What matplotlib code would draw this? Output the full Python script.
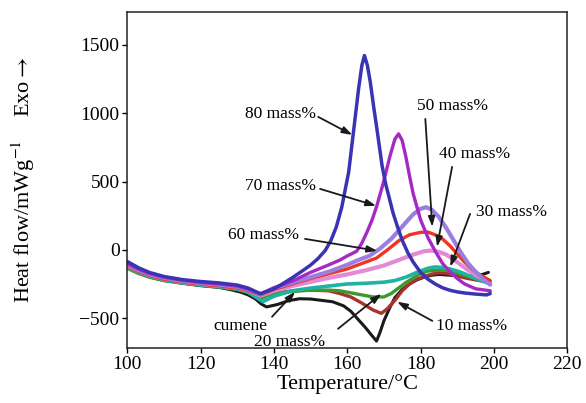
import matplotlib.pyplot as plt

plt.rcParams['font.family'] = ['Liberation Serif', 'DejaVu Serif']
plt.rcParams['mathtext.fontset'] = 'stix'

# DSC curves: temperature (°C) / heat flow (mW/g)
t_cumene = [100, 103, 106, 110, 115, 120, 125, 128, 131, 133, 135, 136.5, 138, 141, 144, 147, 150, 153, 156, 159, 161,
            163, 165, 166.5, 168, 169, 170, 171.5, 173, 175, 177, 179, 181, 183, 185, 187, 190, 193, 196, 197.5, 198.5]
hf_cumene = [-130, -168, -198, -224, -244, -262, -275, -290, -310, -330, -360, -395, -418, -400, -372, -358, -360, -370,
             -380, -410, -450, -510, -570, -620, -668, -600, -520, -430, -350, -290, -250, -220, -200, -186, -180, -184,
             -190, -193, -186, -175, -165]

t_10 = [100, 103, 106, 110, 115, 120, 125, 130, 133, 135, 136.5, 138, 140, 145, 150, 155, 158, 161, 164, 167, 169.3,
        171, 173, 175, 177, 179, 181, 183, 185, 187, 189, 192, 195, 199]
hf_10 = [-128, -165, -195, -222, -242, -258, -270, -287, -308, -330, -350, -335, -320, -300, -295, -300, -320, -345,
         -390, -440, -465, -430, -370, -300, -250, -215, -195, -178, -168, -172, -185, -205, -220, -240]

t_20 = [100, 103, 106, 110, 115, 120, 125, 130, 133, 135, 136.5, 138, 140, 145, 150, 155, 158, 161, 164, 167, 170,
        172, 174, 176, 178, 180, 182, 185, 187, 190, 193, 196, 199]
hf_20 = [-135, -172, -200, -225, -244, -260, -272, -290, -312, -335, -360, -338, -320, -305, -295, -295, -300, -315,
         -330, -345, -345, -320, -280, -240, -205, -175, -155, -148, -150, -170, -195, -215, -235]

t_30 = [100, 103, 106, 110, 115, 120, 125, 130, 133, 135, 137, 140, 145, 150, 155, 160, 165, 170, 173, 176, 179, 182,
        184, 186, 188, 190, 192, 194, 196, 199]
hf_30 = [-125, -163, -193, -220, -240, -257, -268, -285, -310, -345, -380, -340, -300, -280, -265, -250, -245, -237,
         -225, -200, -165, -135, -125, -130, -140, -155, -175, -200, -220, -250]

t_40 = [100, 103, 106, 110, 115, 120, 125, 130, 133, 135, 136.5, 140, 145, 150, 155, 160, 165, 170, 174, 178, 181,
        183, 185, 187, 189, 191, 193, 195, 197, 199]
hf_40 = [-118, -155, -186, -212, -234, -250, -262, -278, -298, -320, -335, -300, -265, -235, -205, -180, -150, -115,
         -75, -35, -10, -5, -15, -35, -70, -110, -150, -185, -215, -240]

t_50 = [100, 103, 106, 110, 115, 120, 125, 130, 133, 135, 136.5, 140, 145, 150, 155, 160, 164, 168, 171, 174, 177,
        180, 182, 184, 186, 188, 190, 192, 194, 196, 199]
hf_50 = [-120, -158, -188, -215, -236, -252, -264, -280, -300, -318, -330, -290, -250, -210, -175, -140, -100, -60, 0,
         65, 110, 128, 130, 110, 80, 30, -30, -90, -140, -180, -225]

t_60 = [100, 103, 106, 110, 115, 120, 125, 130, 133, 135, 136.5, 140, 145, 150, 155, 160, 163, 166, 169, 172, 175,
        178, 180, 181.5, 183, 185, 187, 189, 191, 193, 195, 197, 199]
hf_60 = [-110, -148, -178, -205, -228, -243, -255, -270, -292, -312, -325, -280, -240, -200, -160, -110, -75, -45, 10,
         80, 170, 260, 300, 312, 295, 240, 160, 70, -20, -100, -160, -215, -255]

t_70 = [100, 103, 106, 110, 115, 120, 125, 130, 133, 135, 136.5, 140, 145, 150, 155, 158, 160, 162.6, 164, 165.4,
        166.8, 168.1, 169.9, 171.7, 173, 174, 175, 176, 177, 178, 180, 182, 184, 186, 188, 190, 192, 195, 199]
hf_70 = [-100, -140, -172, -200, -222, -238, -250, -265, -288, -310, -322, -280, -230, -165, -110, -75, -45, -10, 50,
         130, 220, 324, 495, 690, 810, 849, 800, 680, 540, 410, 220, 90, -10, -100, -160, -210, -250, -285, -300]

t_80 = [100, 103, 106, 110, 115, 120, 125, 130, 133, 135, 136.3, 138, 140, 142, 145, 148, 150, 152, 154, 155.5, 157,
        158.5, 160.4, 161.7, 163.1, 164, 164.7, 165.5, 166.3, 167.2, 168.1, 169.5, 170.5, 171.3, 172.5, 173.6, 175,
        176.5, 178, 180, 182, 184, 186, 188, 190, 192, 195, 198, 199]
hf_80 = [-85, -130, -165, -195, -218, -232, -242, -258, -280, -305, -322, -305, -285, -255, -205, -150, -112, -65, -5,
         65, 165, 310, 569, 861, 1178, 1350, 1422, 1350, 1227, 1050, 885, 617, 480, 397, 270, 178, 70, -20, -90, -165,
         -215, -250, -278, -296, -308, -316, -324, -330, -320]

series = [
    (t_cumene, hf_cumene, '#1a1a1a', 2.2),
    (t_10, hf_10, '#a8322e', 2.4),
    (t_20, hf_20, '#3a9a2e', 2.4),
    (t_30, hf_30, '#1fb3a3', 2.6),
    (t_40, hf_40, '#e38ad6', 3.0),
    (t_50, hf_50, '#ee3423', 2.4),
    (t_60, hf_60, '#9a7fe0', 3.0),
    (t_70, hf_70, '#a52ac3', 2.4),
    (t_80, hf_80, '#3b33b5', 2.5),
]

# label text, text position, arrow tail, arrow tip
labels = [
    ('80 mass%', (141.7, 995), (152.1, 973), (161.4, 841)),
    ('70 mass%', (141.7, 468), (152.6, 446), (167.9, 322)),
    ('60 mass%', (137.1, 110), (148.5, 80), (168.2, -7)),
    ('50 mass%', (188.6, 1054), (181.3, 958), (183.2, 168)),
    ('40 mass%', (194.6, 702), (188.6, 607), (184.5, 22)),
    ('30 mass%', (204.7, 278), (193.5, 263), (188.1, -124)),
    ('10 mass%', (193.8, -556), (183.2, -520), (173.6, -380)),
    ('20 mass%', (144.4, -673), (157.5, -578), (169.3, -322)),
    ('cumene', (130.8, -556), (139.5, -490), (145.8, -307)),
]

fig = plt.figure(figsize=(5.86, 4.03), dpi=100)
ax = fig.add_axes([0.217, 0.136, 0.751, 0.834])

for t, hf, c, lw in series:
    ax.plot(t, hf, color=c, lw=lw, solid_capstyle='round', solid_joinstyle='round')

for txt, xy_text, xy_tail, xy_tip in labels:
    ax.text(*xy_text, txt, fontsize=12.5, ha='center', va='center')
    ax.annotate('', xy=xy_tip, xytext=xy_tail,
                arrowprops=dict(arrowstyle='-|>,head_length=0.6,head_width=0.2', color='#1a1a1a',
                                lw=1.3, shrinkA=0, shrinkB=0))

ax.set_xlim(100, 220)
ax.set_ylim(-720, 1740)
ax.set_xticks([100, 120, 140, 160, 180, 200, 220])
ax.set_yticks([-500, 0, 500, 1000, 1500])
ax.tick_params(direction='out', length=3.5, width=1.0, labelsize=14, pad=2)
for s in ax.spines.values():
    s.set_linewidth(1.1)
    s.set_color('#222222')

ax.set_xlabel('Temperature/°C', fontsize=16, labelpad=1)
ax.set_ylabel('Heat flow/mWg$^{-1}$    Exo$\\rightarrow$', fontsize=16)
ax.yaxis.set_label_coords(-0.205, 0.5)

fig.savefig('out.png', dpi=100)
